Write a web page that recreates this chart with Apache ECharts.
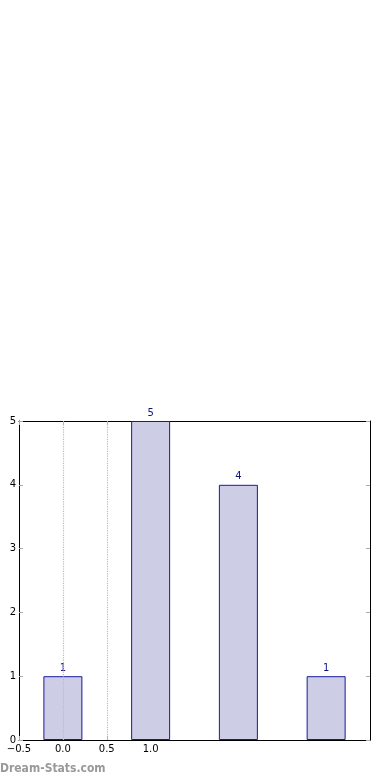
<!DOCTYPE html>
<html><head><meta charset="utf-8">
<script src="https://cdn.jsdelivr.net/npm/echarts@6/dist/echarts.min.js"></script>
<style>html,body{margin:0;padding:0;background:#fff}#c{width:390px;height:780px}</style>
</head><body><div id="c"></div>
<script>
var positions = [0, 1, 2, 3];
var counts = [1, 5, 4, 1];
var xTickLabels = ['\u22120.5', '0.0', '0.5', '1.0'];
var xTickValues = [-0.5, 0, 0.5, 1.0];
var gridLineValues = [0, 0.5];
var yTicks = [0, 1, 2, 3, 4, 5];

var chart = echarts.init(document.getElementById('c'));
var barData = positions.map(function (p, i) { return [p, counts[i]]; });
var font = 'DejaVu Sans';
function xLabel(v) {
  for (var i = 0; i < xTickValues.length; i++) if (Math.abs(xTickValues[i] - v) < 1e-9) return xTickLabels[i];
  return '';
}
chart.setOption({
  animation: false,
  backgroundColor: '#fff',
  grid: { left: 19, right: 20, top: 421, bottom: 40, containLabel: false },
  xAxis: [{
    type: 'value', min: -0.5, max: 3.5, interval: 0.5, position: 'bottom',
    axisLine: { show: true, onZero: false, lineStyle: { color: '#000', width: 1 } },
    axisTick: { show: true, inside: true, length: 4, lineStyle: { color: '#aaa' }, customValues: xTickValues },
    axisLabel: { show: true, formatter: xLabel, customValues: xTickValues, color: '#000', fontFamily: font, fontSize: 10, margin: 4 },
    splitLine: { show: false }
  }, {
    type: 'value', min: -0.5, max: 3.5, interval: 0.5, position: 'top',
    axisLine: { show: true, onZero: false, lineStyle: { color: '#000', width: 1 } },
    axisTick: { show: true, inside: true, length: 4, lineStyle: { color: '#aaa' }, customValues: xTickValues },
    axisLabel: { show: false },
    splitLine: { show: false }
  }],
  yAxis: [{
    type: 'value', min: 0, max: 5, interval: 1, position: 'left',
    axisLine: { show: true, onZero: false, lineStyle: { color: '#000', width: 1 } },
    axisTick: { show: true, inside: true, length: 4, lineStyle: { color: '#aaa' }, customValues: yTicks },
    axisLabel: { color: '#000', fontFamily: font, fontSize: 10, margin: 3, customValues: yTicks },
    splitLine: { show: false }
  }, {
    type: 'value', min: 0, max: 5, interval: 1, position: 'right',
    axisLine: { show: true, onZero: false, lineStyle: { color: '#000', width: 1 } },
    axisTick: { show: true, inside: true, length: 4, lineStyle: { color: '#aaa' }, customValues: yTicks },
    axisLabel: { show: false },
    splitLine: { show: false }
  }],
  series: [{
    type: 'bar', xAxisIndex: 0, yAxisIndex: 0,
    data: barData, barWidth: 39,
    itemStyle: { color: '#cdcde6', borderColor: '#1a1a99', borderWidth: 1 },
    label: { show: true, position: 'top', distance: 3, color: '#141480', fontFamily: font, fontSize: 10 },
    markLine: {
      silent: true, symbol: 'none', label: { show: false },
      lineStyle: { color: '#bbb', type: 'dotted', width: 1.2 },
      data: gridLineValues.map(function (v) { return { xAxis: v }; })
    },
    z: 2
  }],
  graphic: [{
    type: 'text', left: 0, top: 763,
    style: { text: 'Dream-Stats.com', fill: '#999', font: 'bold 12px "DejaVu Sans Condensed", "DejaVu Sans"' }
  }]
});
</script></body></html>
